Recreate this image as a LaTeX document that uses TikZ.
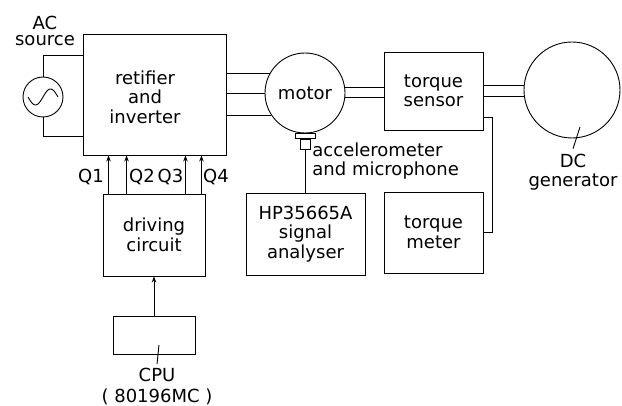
\documentclass[tikz,border=0pt]{standalone}
\usepackage{fontspec}
\setmainfont{DejaVu Sans}
\usetikzlibrary{arrows.meta}
\begin{document}
\begin{tikzpicture}[x=1pt,y=-1pt, line width=0.9pt,
  box/.style={draw, rectangle, inner sep=0pt},
  circ/.style={draw, circle, inner sep=0pt},
  txt/.style={font=\fontsize{18}{19.5}\selectfont, align=center, inner sep=0pt},
  arr/.style={-{Stealth[length=6pt,width=4.5pt]}}]
\useasboundingbox (0,0) rectangle (622,406);
% rectifier / inverter
\node[box, minimum width=143pt, minimum height=121pt] (rect) at (154.5,94.5) {};
\node[txt] (rectt) at (145,97) {retifier\\and\\inverter};
% AC source
\node[circ, minimum size=40pt] (ac) at (43,97) {};
\draw[shift={(ac.center)}, line width=0.9pt] plot[domain=-15:15, samples=50, smooth] (\x, {-8*sin(\x*180/15)});
\node[txt, font=\fontsize{18}{16.5}\selectfont] (actxt) at (45,31) {AC\\source};
\draw (ac.north) |- ([yshift=-22pt]rect.north west);
\draw (ac.south) |- ([yshift=19pt]rect.south west);
% motor
\node[circ, minimum size=80pt, txt] (motor) at (305,93) {motor};
\foreach \a in {151.6,180,213.4} \draw (rect.east |- motor.\a) -- (motor.\a);
% torque sensor
\node[box, minimum width=99pt, minimum height=78pt, txt] (ts) at (433.5,91) {torque\\sensor};
\foreach \a in {8.6,-7.2} \draw (motor.\a) -- (ts.west |- motor.\a);
% DC generator
\node[circ, minimum size=96pt] (gen) at (572,90) {};
\foreach \a in {175.2,188.4} \draw (ts.east |- gen.\a) -- (gen.\a);
\node[txt, font=\fontsize{18}{18.5}\selectfont] (gent) at (573,172) {DC\\generator};
\coordinate (gl) at (580,127);
\draw (gl) -- ([yshift=5pt]gent.north);
% torque meter
\node[box, minimum width=99pt, minimum height=81pt, txt] (tm) at (433.5,232.5) {torque\\meter};
\draw ([yshift=13pt]ts.south east) -- ++(9,0) |- (tm.east);
% accelerometer
\node[box, minimum width=20pt, minimum height=5pt, anchor=north] (acc1) at (motor.south) {};
\node[box, minimum width=10pt, minimum height=10pt, anchor=north] (acc2) at (acc1.south) {};
\node[txt, align=left, anchor=west] (acct) at (312,161) {accelerometer\\and microphone};
% signal analyser
\node[box, minimum width=119pt, minimum height=82pt, txt] (sa) at (305.5,234) {HP35665A\\signal\\analyser};
\draw (acc2.south) -- (acc2.south |- sa.north);
% driving circuit
\node[box, minimum width=102pt, minimum height=82pt, txt] (dc) at (154,235) {driving\\circuit};
\coordinate (q1) at ([xshift=6pt]dc.north west);
\coordinate (q2) at ([xshift=24pt]dc.north west);
\coordinate (q3) at ([xshift=-20pt]dc.north east);
\coordinate (q4) at ([xshift=-4pt]dc.north east);
\foreach \q in {q1,q2,q3,q4} \draw[arr] (\q) -- (\q |- rect.south);
\node[txt] (lq1) at (91,177) {Q1};
\node[txt] (lq2) at (142,177) {Q2};
\node[txt] (lq3) at (170.5,177) {Q3};
\node[txt] (lq4) at (216,177) {Q4};
% CPU
\node[box, minimum width=82pt, minimum height=38pt] (cpu) at (154,335) {};
\draw[arr] (cpu.north) -- (dc.south);
\node[txt, font=\fontsize{18}{21}\selectfont] (cput) at (157,387) {CPU\\( 80196MC )};
\coordinate (cl) at (159,345);
\draw (cl) -- ([yshift=4pt]cput.north);
\end{tikzpicture}
\end{document}
